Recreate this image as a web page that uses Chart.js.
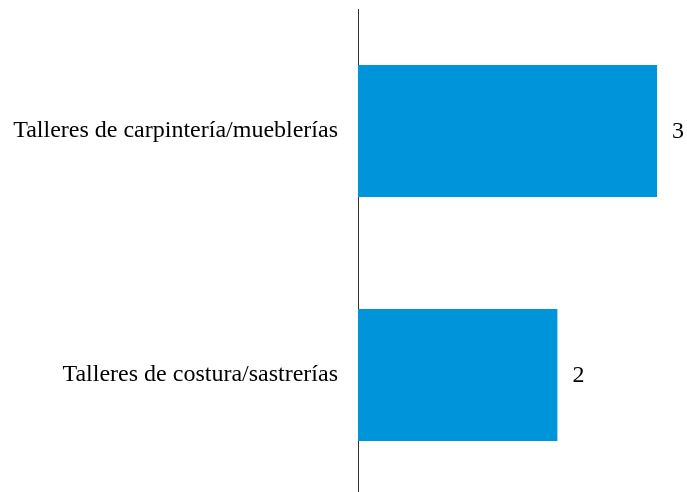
<!DOCTYPE html>
<html>
<head>
<meta charset="utf-8">
<script src="https://cdn.jsdelivr.net/npm/chart.js@4"></script>
<style>
  html, body { margin: 0; padding: 0; background: #fff; overflow: hidden; }
  #wrap { width: 687px; height: 497px; position: relative; }
</style>
</head>
<body>
<div id="wrap"><canvas id="chart"></canvas></div>
<script>
const categories = ["Talleres de carpintería/mueblerías", "Talleres de costura/sastrerías"];
const values = [3, 2];

const FONT = "'Liberation Serif', 'Times New Roman', serif";

// writes the value to the right of each bar
const valueLabels = {
  id: "valueLabels",
  afterDatasetsDraw(chart) {
    const ctx = chart.ctx;
    const meta = chart.getDatasetMeta(0);
    ctx.save();
    ctx.font = "24px " + FONT;
    ctx.fillStyle = "#000";
    ctx.textAlign = "left";
    ctx.textBaseline = "middle";
    meta.data.forEach((bar, i) => {
      ctx.fillText(values[i], bar.x + 15, bar.y + 1);
    });
    ctx.restore();
  },
};

new Chart(document.getElementById("chart"), {
  type: "bar",
  data: {
    labels: categories,
    datasets: [
      {
        data: values,
        backgroundColor: "#0094DA",
        borderWidth: 0,
        categoryPercentage: 1,
        barPercentage: 0.54,
      },
    ],
  },
  options: {
    indexAxis: "y",
    responsive: true,
    maintainAspectRatio: false,
    animation: false,
    layout: { padding: { top: 9, right: 0, bottom: 0, left: 0 } },
    plugins: {
      legend: { display: false },
      tooltip: { enabled: false },
    },
    scales: {
      x: {
        min: 0,
        max: 3.3,
        display: false,
      },
      y: {
        afterFit: (scale) => {
          scale.width = 358;
          scale.paddingTop = 0;
          scale.paddingBottom = 0;
        },
        grid: { display: false, drawTicks: false },
        border: { display: true, color: "#333", width: 1 },
        ticks: {
          padding: 20,
          color: "#000",
          font: { family: FONT, size: 24 },
        },
      },
    },
  },
  plugins: [valueLabels],
});
</script>
</body>
</html>
